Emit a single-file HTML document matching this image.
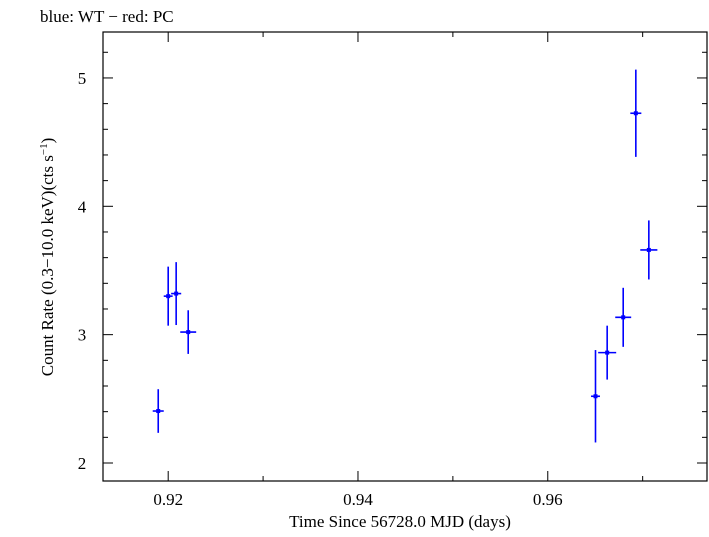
<!DOCTYPE html>
<html><head><meta charset="utf-8"><style>
body{margin:0;background:#fff;}
svg text{font-family:"Liberation Serif",serif;fill:#000;}
</style></head><body>
<svg id="chart" width="709" height="532" xmlns="http://www.w3.org/2000/svg">
<text x="40" y="22" font-size="17">blue: WT − red: PC</text>
<rect x="103" y="32" width="604" height="449" fill="none" stroke="#000" stroke-width="1.2"/>
<g id="axes"></g>
<g id="marks"></g>
<text x="400" y="527" font-size="17" text-anchor="middle">Time Since 56728.0 MJD (days)</text>
<text transform="translate(53,257) rotate(-90)" font-size="17" text-anchor="middle">Count Rate (0.3−10.0 keV)(cts s<tspan font-size="11" dy="-6">−1</tspan><tspan dy="6">)</tspan></text>
</svg>
<script>
const times=[0.91895,0.9200,0.92084,0.92211,0.96503,0.96626,0.96795,0.96928,0.97065];
const timeErr=[0.00058,0.00047,0.00053,0.00084,0.00047,0.00095,0.00084,0.00058,0.0009];
const rates=[2.405,3.30,3.32,3.02,2.52,2.86,3.135,4.725,3.66];
const rateErr=[0.17,0.23,0.245,0.17,0.36,0.21,0.23,0.34,0.23];
const xTicks=[0.92,0.94,0.96];
const xTickLabels=["0.92","0.94","0.96"];
const xMinor=[0.93,0.95,0.97];
const yTicks=[2,3,4,5];
const yTickLabels=["2","3","4","5"];
const X0=103,X1=707,Y0=481,Y1=32;
const xMin=0.91313,xMax=0.97678,yMin=1.8598,yMax=5.358;
function sx(t){return X0+(t-xMin)/(xMax-xMin)*(X1-X0);}
function sy(v){return Y0-(v-yMin)/(yMax-yMin)*(Y0-Y1);}
const NS="http://www.w3.org/2000/svg";
const axes=document.getElementById('axes'),marks=document.getElementById('marks');
function line(p,x1,y1,x2,y2,c,w){const l=document.createElementNS(NS,'line');l.setAttribute('x1',x1);l.setAttribute('y1',y1);l.setAttribute('x2',x2);l.setAttribute('y2',y2);l.setAttribute('stroke',c);l.setAttribute('stroke-width',w);p.appendChild(l);return l;}
xTicks.forEach((t,i)=>{const x=sx(t);
 const a=line(axes,x,Y0,x,Y0-10,'#000',1);
 
 
 const b=line(axes,x,Y1,x,Y1+10,'#000',1);
 
 
 const tx=document.createElementNS(NS,'text');tx.setAttribute('x',x);tx.setAttribute('y',505);tx.setAttribute('font-size','17');tx.setAttribute('text-anchor','middle');tx.textContent=xTickLabels[i];
 
 
 axes.appendChild(tx);});
xMinor.forEach(t=>{const x=sx(t);
 const a=line(axes,x,Y0,x,Y0-5,'#000',1);
 
 
 const b=line(axes,x,Y1,x,Y1+5,'#000',1);
 
 });
for(let v=2;v<=5.3;v+=0.2){const y=sy(v);const major=Math.abs(v-Math.round(v))<0.01;const L=major?10:5;
 const a=line(axes,X0,y,X0+L,y,'#000',1);
 
 
 const b=line(axes,X1,y,X1-L,y,'#000',1);
 
 }
yTicks.forEach((v,i)=>{const y=sy(v);const tx=document.createElementNS(NS,'text');tx.setAttribute('x',82);tx.setAttribute('y',y+6);tx.setAttribute('font-size','17');tx.setAttribute('text-anchor','middle');tx.textContent=yTickLabels[i];
 
 
 axes.appendChild(tx);});
times.forEach((t,i)=>{const x=sx(t),y=sy(rates[i]);
 const h=line(marks,sx(t-timeErr[i]),y,sx(t+timeErr[i]),y,'#0000ff',1.6);
 
 
 const v=line(marks,x,sy(rates[i]-rateErr[i]),x,sy(rates[i]+rateErr[i]),'#0000ff',1.6);
 
 
 const r=document.createElementNS(NS,'rect');r.setAttribute('x',x-2);r.setAttribute('y',y-2);r.setAttribute('width',4);r.setAttribute('height',4);r.setAttribute('fill','#0000ff');
 
 
 marks.appendChild(r);});
</script>
</body></html>
